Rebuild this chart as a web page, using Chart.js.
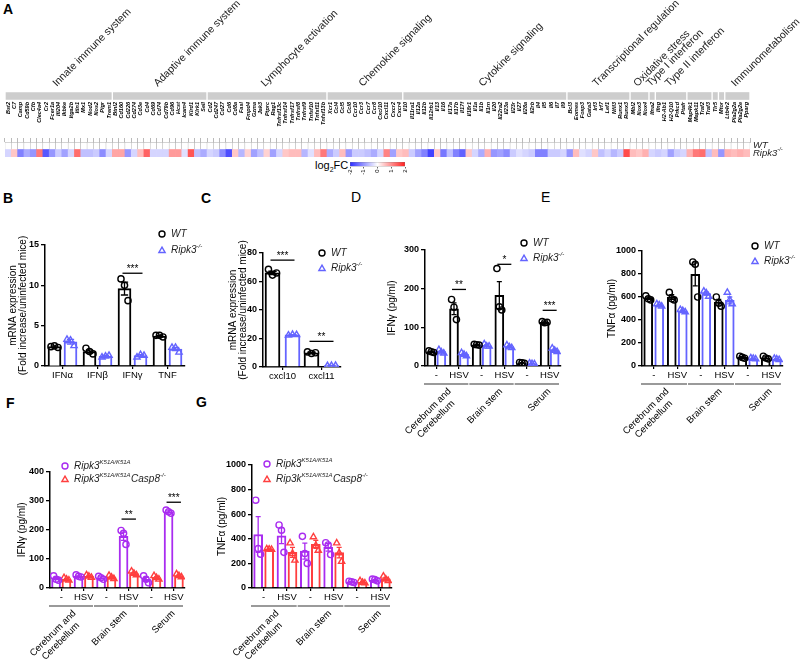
<!DOCTYPE html>
<html>
<head>
<meta charset="utf-8">
<script src="https://cdn.jsdelivr.net/npm/chart.js"></script>
<style>
  body { margin: 0; background: #fff; }
  #wrap { position: relative; width: 800px; height: 664px; overflow: hidden; font-family: 'Liberation Sans', Arial, sans-serif; color: #000; }
  .tag { position: absolute; font-size: 14px; font-weight: bold; line-height: 14px; }
  .tag.thin { font-weight: normal; }
</style>
</head>
<body>
<div id="wrap">
  <div class="tag" style="left:3px;top:2px">A</div>
  <div class="tag" style="left:3px;top:191px">B</div>
  <div class="tag" style="left:201px;top:191px">C</div>
  <div class="tag thin" style="left:351px;top:190px">D</div>
  <div class="tag thin" style="left:541px;top:190px">E</div>
  <div class="tag" style="left:6px;top:396px">F</div>
  <div class="tag" style="left:196px;top:395px">G</div>
  <div style="position:absolute;left:315px;top:159px;font-size:11px;line-height:12px">log<sub style="font-size:7px">2</sub>FC</div>
</div>
<script>
// ---------- panel A data ----------
const geneGroups = ['Innate immune system', 'Adaptive immune system', 'Lymphocyte activation',
  'Chemokine signaling', 'Cytokine signaling', 'Transcriptional regulation', 'Oxidative stress',
  'Type I interferon', 'Type II interferon', '', '', '', 'Immunometabolism'];
const geneGroupSizes = [17, 15, 19, 12, 26, 10, 3, 1, 5, 4, 1, 1, 4];
const genes = [
  'Bst2', 'C7', 'Camp', 'Cd59b', 'Cfb', 'Clec4a4', 'Cr2', 'Fcer1a', 'Ifi204', 'Ikbke', 'Itga2b', 'Itln1', 'Mx1', 'Nod2', 'Nos2', 'Pigr', 'Trem1',
  'Btnl2', 'Cd160', 'Cd226', 'Cd274', 'Cd3e', 'Cd4', 'Cd69', 'Cd74', 'Cd79b', 'Cd96', 'Hcst', 'Icam4', 'Klrd1', 'Klrk1', 'Sell',
  'Cd2', 'Cd247', 'Cd27', 'Cd6', 'Cd8a', 'Fasl', 'Fmpd4', 'Gzma', 'Jak3', 'Ptprc', 'Rag1', 'Tnfrsf13c', 'Tnfrsf14', 'Tnfrsf17', 'Tnfrsf8', 'Tnfrsf9', 'Tnfsf10', 'Tnfsf11', 'Tnfsf13b',
  'Xcr1', 'Ccl4', 'Ccl5', 'Ccl8', 'Ccr10', 'Ccr3', 'Ccr7', 'Ccr8', 'Cxcl10', 'Cxcl11', 'Cxcr2', 'Cxcr4',
  'Il10', 'Il11ra1', 'Il12a', 'Il12b', 'Il12rb1', 'Il13', 'Il16', 'Il17a', 'Il17b', 'Il17f', 'Il18r1', 'Il1a', 'Il1b', 'Il1rn', 'Il20', 'Il22ra2', 'Il23a', 'Il23r', 'Il27', 'Il28a', 'Il2rb', 'Il4', 'Il5', 'Il6', 'Il7', 'Il9',
  'Bcl3', 'Eomes', 'Foxp3', 'Gata3', 'Irf3', 'Irf7', 'Lef1', 'Nfil3', 'Runx1', 'Runx3',
  'Mbl2', 'Nox3', 'Nox4',
  'Ifna2',
  'Ifng', 'H2-Ab1', 'H2-Q10', 'Prkcd', 'Ptafr',
  'Map4k1', 'Mapk11', 'Traf2', 'Traf3',
  'Tlr5',
  'Mtor',
  'Ltb4r2', 'Pla2g2a', 'Pla2g2e', 'Pparg'
];
const ripkFC = [
  -0.4, 0.5, -1.2, -0.8, -1.0, 1.2, -1.6, -1.0, -0.5, -0.9, -0.4, 1.3, -0.6, -0.6, -0.5, -1.1, -0.4,
  0.8, 0.8, -1.0, -0.4, 0.6, 1.4, -0.4, -0.4, -0.4, 0.9, 0.9, -0.3, 1.5, -0.6, -0.8,
  -0.4, -0.5, -1.1, -1.7, 0.5, -0.7, 0.4, -0.9, -0.6, 0.4, -0.9, -0.4, 0.5, 0.6, 0.6, -0.7, -0.3, 0.6, 1.2,
  -0.8, -0.5, 0.6, -1.0, -0.5, -0.5, -0.6, -0.8, -0.4, 1.1, -0.9, 0.5,
  0.6, -0.5, -0.9, -1.2, -1.8, 0.5, -1.3, -0.6, -1.2, -1.5, 0.5, -0.4, -0.8, 0.7, -1.0, -0.9, -1.1, -0.5, -0.3, -0.4, -0.5, -1.2, -1.2, -0.5, -0.5, -0.4,
  -1.0, 0.6, -0.3, -0.4, 0.5, -0.6, -0.4, -0.7, -0.5, 1.6,
  0.6, 0.5, 0.7,
  -0.4,
  -0.5, -0.4, -0.9, -0.5, -0.4,
  0.7, 1.2, 1.3, -0.6,
  0.6,
  -1.0,
  0.7, 0.6, 0.7, 0.6
];
const heatRowLabels = [[['Ripk3'], ['-/-', 1]], [['WT']]];
const fcTicks = [-2, -1, 0, 1, 2];

// ---------- panel B / C data ----------
const bCats = ['IFNα', 'IFNβ', 'IFNγ', 'TNF'];
const bYTicks = [0, 5, 10, 15];
const bWtMean = [2.4, 1.8, 9.6, 3.7];
const bWtSem = [0.1, 0.2, 0.8, 0.1];
const bWtPts = [[2.4, 2.5, 2.3], [2.2, 1.8, 1.5], [10.8, 10.0, 8.1], [3.8, 3.8, 3.6]];
const bKoMean = [3.0, 1.2, 1.3, 2.1];
const bKoSem = [0.3, 0.1, 0.1, 0.2];
const bKoPts = [[3.3, 3.2, 2.5], [1.1, 1.2, 1.3], [1.1, 1.4, 1.3], [2.3, 2.3, 1.7]];

const cCats = ['cxcl10', 'cxcl11'];
const cYTicks = [0, 20, 40, 60, 80];
const cWtMean = [66, 10];
const cWtSem = [1.2, 0.4];
const cWtPts = [[68.5, 64.5, 66], [10.6, 9.5, 10]];
const cKoMean = [22.5, 1.0];
const cKoSem = [0.2, 0.1];
const cKoPts = [[22.3, 22.8, 22.6], [0.9, 1.0, 1.1]];

// ---------- panels D-G data ----------
const hsvCats = ['-', 'HSV', '-', 'HSV', '-', 'HSV'];
const tissueGroups = [['Cerebrum and', 'Cerebellum'], ['Brain stem'], ['Serum']];

const dYTicks = [0, 100, 200, 300];
const dWtMean = [37, 148, 55, 183, 8, 113];
const dWtSem = [1.2, 15, 0.6, 35, 0.6, 1];
const dWtPts = [[39, 37, 35], [172, 152, 120], [56, 55, 54], [252, 153, 145], [9, 8, 7], [115, 112, 113]];
const dKoMean = [37, 30, 53, 50, 6, 41];
const dKoSem = [2.6, 2.3, 2, 2, 0.5, 2.6];
const dKoPts = [[42, 36, 33], [34, 30, 26], [57, 51, 51], [54, 49, 47], [7, 6, 5], [46, 40, 37]];

const eYTicks = [0, 200, 400, 600, 800, 1000];
const eWtMean = [590, 600, 797, 555, 76, 72];
const eWtSem = [10, 20, 100, 25, 5, 7];
const eWtPts = [[610, 585, 575], [640, 585, 575], [905, 885, 600], [600, 545, 520], [85, 75, 68], [85, 70, 62]];
const eKoMean = [530, 480, 630, 570, 65, 60];
const eKoSem = [6, 6, 14, 30, 3, 3];
const eKoPts = [[540, 530, 520], [490, 480, 470], [650, 635, 605], [640, 575, 540], [70, 65, 60], [65, 60, 55]];

const fYTicks = [0, 100, 200, 300, 400];
const fK51Mean = [33, 40, 35, 178, 30, 262];
const fK51Sem = [4, 2, 3, 14, 7, 3];
const fK51Pts = [[42, 30, 27], [45, 40, 38], [40, 35, 30], [198, 188, 150], [42, 30, 18], [268, 262, 257]];
const fCaspMean = [30, 40, 37, 50, 35, 42];
const fCaspSem = [2, 3, 3, 4, 3, 3];
const fCaspPts = [[35, 30, 27], [45, 40, 36], [43, 37, 32], [58, 50, 45], [42, 35, 30], [48, 42, 38]];

const gYTicks = [0, 200, 400, 600, 800, 1000];
const gK51Mean = [435, 425, 300, 330, 50, 65];
const gK51Sem = [145, 65, 65, 30, 3, 4];
const gK51Pts = [[714, 320, 275], [512, 470, 290], [420, 280, 200], [368, 350, 272], [55, 50, 45], [72, 68, 58]];
const gCaspMean = [315, 290, 355, 288, 48, 75];
const gCaspSem = [2, 40, 32, 43, 5, 11];
const gCaspPts = [[318, 315, 312], [365, 280, 225], [415, 345, 305], [365, 285, 215], [58, 45, 40], [95, 72, 58]];

const legWT = [['WT']];
const legKO = [['Ripk3'], ['-/-', 1]];
const legK51 = [['Ripk3'], ['K51A/K51A', 1]];
const legCaspF = [['Ripk3'], ['K51A/K51A', 1], ['Casp8'], ['-/-', 1]];
const legCaspG = [['Rip3k'], ['K51A/K51A', 1], ['Casp8'], ['-/-', 1]];

// ---------- shared helpers ----------
const FONT = "'Liberation Sans', Arial, sans-serif";
Chart.defaults.font.family = FONT;
Chart.defaults.color = '#000';
const BLACK = '#000000', BLUE = '#6464ff', PURPLE = '#a92cf0', RED = '#ff3f3f';

function addCanvas(box) {
  const c = document.createElement('canvas');
  c.width = box.width; c.height = box.height;
  c.style.cssText = `position:absolute;left:${box.left}px;top:${box.top}px;width:${box.width}px;height:${box.height}px`;
  document.getElementById('wrap').appendChild(c);
  return c;
}

function fcColor(v) {
  const t = Math.max(-1, Math.min(1, v / 2));
  const end = t < 0 ? [45, 45, 255] : [255, 30, 30];
  const a = Math.abs(t);
  const c = end.map(e => Math.round(255 + (e - 255) * a));
  return `rgb(${c[0]},${c[1]},${c[2]})`;
}

function drawSegs(ctx, segs, x, y, size, color) {
  ctx.save();
  ctx.fillStyle = color; ctx.textBaseline = 'middle'; ctx.textAlign = 'left';
  segs.forEach(([t, sup]) => {
    const fs = sup ? size * 0.6 : size;
    ctx.font = `italic ${fs}px ${FONT}`;
    ctx.fillText(t, x, sup ? y - size * 0.38 : y);
    x += ctx.measureText(t).width + (sup ? 0.5 : 0);
  });
  ctx.restore();
}

function drawMarker(ctx, shape, x, y, r, color) {
  ctx.save();
  ctx.strokeStyle = color; ctx.lineWidth = 1.4;
  ctx.beginPath();
  if (shape === 'triangle') {
    const R = r * 1.2;
    for (let k = 0; k < 3; k++) {
      const a = -Math.PI / 2 + k * 2 * Math.PI / 3;
      const px = x + R * Math.cos(a), py = y + R * Math.sin(a) + R * 0.2;
      k ? ctx.lineTo(px, py) : ctx.moveTo(px, py);
    }
    ctx.closePath();
  } else {
    ctx.arc(x, y, r, 0, Math.PI * 2);
  }
  ctx.stroke();
  ctx.restore();
}

// error bars drawn right after each bar dataset, below the dots
const errorBars = {
  id: 'errorBars',
  afterDatasetDraw(chart, args) {
    const ds = chart.data.datasets[args.index];
    if (!ds.errors) return;
    const ctx = chart.ctx, ys = chart.scales.y;
    ctx.save();
    ctx.strokeStyle = ds.borderColor; ctx.lineWidth = 1.3;
    args.meta.data.forEach((bar, i) => {
      const m = ds.data[i].y, e = ds.errors[i];
      const top = ys.getPixelForValue(m + e), bot = ys.getPixelForValue(m - e);
      const cap = bar.width * 0.28;
      ctx.beginPath();
      ctx.moveTo(bar.x, bot); ctx.lineTo(bar.x, top);
      ctx.moveTo(bar.x - cap, top); ctx.lineTo(bar.x + cap, top);
      ctx.moveTo(bar.x - cap, bot); ctx.lineTo(bar.x + cap, bot);
      ctx.stroke();
    });
    ctx.restore();
  }
};

const sigMarks = {
  id: 'sig',
  afterDatasetsDraw(chart, args, o) {
    if (!o || !o.items) return;
    const ctx = chart.ctx, xs = chart.scales.x, ys = chart.scales.y;
    ctx.save();
    ctx.strokeStyle = '#000'; ctx.lineWidth = 1.3; ctx.fillStyle = '#000';
    ctx.font = `10px ${FONT}`; ctx.textAlign = 'center'; ctx.textBaseline = 'bottom';
    o.items.forEach(it => {
      const xa = xs.getPixelForValue(it.i - o.off) - 2, xb = xs.getPixelForValue(it.i + o.off) + 2;
      const y = ys.getPixelForValue(it.y);
      ctx.beginPath(); ctx.moveTo(xa, y); ctx.lineTo(xb, y); ctx.stroke();
      ctx.fillText(it.t, (xa + xb) / 2, y + 1);
    });
    ctx.restore();
  }
};

const keyBox = {
  id: 'keys',
  afterDraw(chart, args, o) {
    if (!o || o.x === undefined) return;
    const ctx = chart.ctx;
    chart.data.datasets.filter(d => d.legendSegs).forEach((d, k) => {
      const y = o.y + k * o.dy;
      drawMarker(ctx, d.pointStyle, o.x, y, 3, d.pointBorderColor);
      drawSegs(ctx, d.legendSegs, o.x + 9, y, 10, '#222');
    });
  }
};

const tissueAxis = {
  id: 'groups',
  afterDraw(chart, args, o) {
    if (!o || !o.names) return;
    const ctx = chart.ctx, xs = chart.scales.x, base = chart.chartArea.bottom;
    ctx.save();
    o.names.forEach((lines, k) => {
      const from = k * 2, to = k * 2 + 1;
      const x0 = xs.getPixelForValue(from - 0.5) - 1, x1 = xs.getPixelForValue(to + 0.5) - 2;
      ctx.strokeStyle = '#9a9a9a'; ctx.lineWidth = 2;
      ctx.beginPath(); ctx.moveTo(x0, base + o.lineDy); ctx.lineTo(x1, base + o.lineDy); ctx.stroke();
      const gx = xs.getPixelForValue((from + to) / 2) + o.dx[k];
      ctx.save();
      ctx.translate(gx, base + o.textDy);
      ctx.rotate(-Math.PI / 4);
      ctx.font = `9.5px ${FONT}`; ctx.fillStyle = '#000';
      ctx.textBaseline = 'middle'; ctx.textAlign = 'center';
      const w0 = ctx.measureText(lines[0]).width;
      lines.forEach((t, j) => ctx.fillText(t, -w0 / 2, j * 11));
      ctx.restore();
    });
    ctx.restore();
  }
};

function barPanel(box, area, p) {
  const cv = addCanvas(box);
  const n = p.cats.length;
  const unit = (area.right - area.left) / n;
  const off = p.pairPx / unit;
  const jit = p.barW * 0.27 / unit;
  const datasets = [];
  p.series.forEach((s, k) => {
    const dx = k === 0 ? -off : off;
    datasets.push({
      type: 'bar', order: 2, grouped: false, barThickness: p.barW,
      data: s.means.map((m, i) => ({ x: i + dx, y: m })), errors: s.sems,
      backgroundColor: '#ffffff', borderColor: s.color, borderWidth: 2
    });
    datasets.push({
      type: 'scatter', order: 0, legendSegs: s.legend,
      data: s.pts.flatMap((arr, i) => arr.map((v, j) => ({ x: i + dx + (j - (arr.length - 1) / 2) * jit, y: v }))),
      pointStyle: s.shape, pointRadius: s.shape === 'triangle' ? 3.6 : 3.1,
      pointBorderWidth: 1.4, pointBorderColor: s.color, pointBackgroundColor: 'rgba(255,255,255,0)'
    });
  });
  const titleSize = 10, titleLH = 1.05;
  new Chart(cv, {
    type: 'bar',
    data: { datasets },
    options: {
      responsive: false, animation: false, events: [],
      layout: { padding: { left: 0, top: area.top - box.top, right: box.left + box.width - area.right, bottom: box.top + box.height - area.bottom - 16 } },
      plugins: {
        legend: { display: false }, tooltip: { enabled: false },
        sig: { items: p.sig || [], off },
        keys: { x: p.key[0] - box.left, y: p.key[1] - box.top, dy: p.key[2] },
        groups: p.groups ? { names: p.groups, lineDy: 18, textDy: 24, dx: [2, 8, 11] } : {}
      },
      scales: {
        x: {
          type: 'linear', min: -0.5, max: n - 0.5, offset: false,
          afterBuildTicks: s => { s.ticks = p.cats.map((c, i) => ({ value: i })); },
          afterFit: s => { s.height = 16; },
          ticks: { autoSkip: false, maxRotation: 0, minRotation: 0, padding: 1, font: { size: 9.5 }, color: '#000', callback: (v, i) => p.cats[i] },
          grid: { drawOnChartArea: false, drawTicks: true, tickLength: 3, offset: false, color: '#000', lineWidth: 1.2 },
          border: { color: '#000', width: 1.5 }
        },
        y: {
          min: p.yTicks[0], max: p.yTicks[p.yTicks.length - 1],
          afterBuildTicks: s => { s.ticks = p.yTicks.map(v => ({ value: v })); },
          afterFit: s => { s.width = area.left - box.left; },
          ticks: { font: { size: 9, weight: 'bold' }, color: '#000', padding: 2, callback: v => String(v) },
          grid: { drawOnChartArea: false, tickLength: 4, color: '#000', lineWidth: 1.3 },
          border: { color: '#000', width: 1.5 },
          title: {
            display: true, text: p.yTitle, color: '#000',
            font: { size: titleSize, lineHeight: titleLH },
            padding: { top: p.titleX - box.left - titleSize * titleLH / 2, bottom: 0 }
          }
        }
      }
    },
    plugins: [errorBars, sigMarks, keyBox, tissueAxis]
  });
}

// ---------- panel A: category bars + gene names ----------
const nG = genes.length;
const groupStarts = geneGroupSizes.map((s, k) => geneGroupSizes.slice(0, k).reduce((a, b) => a + b, 0));

const catLabels = {
  id: 'catLabels',
  afterDraw(chart) {
    const ctx = chart.ctx, xs = chart.scales.x;
    ctx.save();
    ctx.font = `10.5px ${FONT}`; ctx.fillStyle = '#222'; ctx.textAlign = 'left'; ctx.textBaseline = 'alphabetic';
    geneGroups.forEach((name, k) => {
      if (!name) return;
      const gx = xs.getPixelForValue(groupStarts[k] + (geneGroupSizes[k] - 1) / 2);
      ctx.save(); ctx.translate(gx - 2, 87); ctx.rotate(-Math.PI / 4); ctx.fillText(name, 0, 0); ctx.restore();
    });
    ctx.restore();
  }
};

new Chart(addCanvas({ left: 0, top: 0, width: 800, height: 140 }), {
  type: 'bar',
  data: {
    labels: ['grp'],
    datasets: [{
      data: geneGroupSizes.map((s, k) => ({ x: [groupStarts[k] - 0.5 + 0.16, groupStarts[k] + s - 0.5 - 0.16], y: 'grp' })),
      backgroundColor: '#cdcdcd', barThickness: 7, grouped: false
    }]
  },
  options: {
    indexAxis: 'y', responsive: false, animation: false, events: [],
    layout: { padding: { left: 5, right: 50, top: 92, bottom: 0 } },
    plugins: { legend: { display: false }, tooltip: { enabled: false } },
    scales: {
      x: {
        type: 'linear', min: -0.5, max: nG - 0.5,
        afterBuildTicks: s => { s.ticks = genes.map((g, i) => ({ value: i })); },
        afterFit: s => { s.height = 40; },
        ticks: { autoSkip: false, minRotation: 90, maxRotation: 90, padding: 2, color: '#000',
          font: { size: 5.5, style: 'italic', weight: 'bold' }, callback: (v, i) => genes[i] },
        grid: { display: false, drawTicks: false }, border: { display: false }
      },
      y: { display: false }
    }
  },
  plugins: [catLabels]
});

// ---------- panel A: heatmap ----------
const rowLabels = {
  id: 'rowLabels',
  afterDraw(chart) {
    const ys = chart.scales.y, x = chart.chartArea.right + 3;
    heatRowLabels.forEach((segs, k) => drawSegs(chart.ctx, segs, x, ys.getPixelForValue(k + 0.5), 9.5, '#222'));
  }
};

new Chart(addCanvas({ left: 0, top: 134, width: 800, height: 26 }), {
  type: 'bar',
  data: {
    labels: genes,
    datasets: [
      { data: genes.map(() => [0, 1]), backgroundColor: ripkFC.map(fcColor), borderWidth: 0,
        grouped: false, barPercentage: 1, categoryPercentage: 1 },
      { data: genes.map(() => [1, 2]), backgroundColor: '#ffffff', borderColor: '#a8a8a8',
        borderWidth: { left: 0.5, right: 0.5, top: 0.8, bottom: 0 }, borderSkipped: false,
        grouped: false, barPercentage: 1, categoryPercentage: 1 }
    ]
  },
  options: {
    responsive: false, animation: false, events: [],
    layout: { padding: { left: 5, right: 50, top: 4, bottom: 3 } },
    plugins: { legend: { display: false }, tooltip: { enabled: false } },
    scales: {
      x: { type: 'category', position: 'top', offset: true,
        ticks: { display: false },
        afterFit: s => { s.height = 4; },
        grid: { drawOnChartArea: false, tickLength: 4, offset: true, color: '#a8a8a8', lineWidth: 0.8 },
        border: { color: '#a8a8a8', width: 0.8 } },
      y: { type: 'linear', min: 0, max: 2, display: false }
    }
  },
  plugins: [rowLabels]
});

// ---------- panel A: colour key ----------
new Chart(addCanvas({ left: 340, top: 156, width: 80, height: 26 }), {
  type: 'bar',
  data: {
    labels: ['fc'],
    datasets: [{
      data: [[fcTicks[0], fcTicks[fcTicks.length - 1]]],
      backgroundColor: ctx => {
        const ca = ctx.chart.chartArea;
        if (!ca) return '#ffffff';
        const g = ctx.chart.ctx.createLinearGradient(ca.left, 0, ca.right, 0);
        g.addColorStop(0, fcColor(fcTicks[0]));
        g.addColorStop(0.5, fcColor(0));
        g.addColorStop(1, fcColor(fcTicks[fcTicks.length - 1]));
        return g;
      },
      borderColor: '#777', borderWidth: 0.6, borderSkipped: false, barPercentage: 1, categoryPercentage: 1
    }]
  },
  options: {
    indexAxis: 'y', responsive: false, animation: false, events: [],
    layout: { padding: { left: 10, right: 15, top: 6, bottom: 3.5 } },
    plugins: { legend: { display: false }, tooltip: { enabled: false } },
    scales: {
      x: { type: 'linear', min: fcTicks[0], max: fcTicks[fcTicks.length - 1],
        afterBuildTicks: s => { s.ticks = fcTicks.map(v => ({ value: v })); },
        afterFit: s => { s.height = 12; },
        ticks: { autoSkip: false, minRotation: 90, maxRotation: 90, padding: 1, font: { size: 6 }, color: '#000', callback: v => String(v) },
        grid: { drawOnChartArea: false, tickLength: 2, color: '#000', lineWidth: 0.6 },
        border: { display: false } },
      y: { display: false }
    }
  }
});

// ---------- panels B-G ----------
barPanel({ left: 0, top: 220, width: 212, height: 164 }, { left: 45, top: 245, right: 185, bottom: 366 }, {
  cats: bCats, yTicks: bYTicks, yTitle: ['mRNA expression', '(Fold increase/uninfected mice)'], titleX: 13,
  barW: 13, pairPx: 8, key: [162, 234, 16],
  sig: [{ i: 2, y: 11.5, t: '***' }],
  series: [
    { means: bWtMean, sems: bWtSem, pts: bWtPts, color: BLACK, shape: 'circle', legend: legWT },
    { means: bKoMean, sems: bKoSem, pts: bKoPts, color: BLUE, shape: 'triangle', legend: legKO }
  ]
});

barPanel({ left: 212, top: 228, width: 162, height: 157 }, { left: 263, top: 253, right: 341, bottom: 367 }, {
  cats: cCats, yTicks: cYTicks, yTitle: ['mRNA expression', '(Fold increase/uninfected mice)'], titleX: 233,
  barW: 15, pairPx: 10, key: [322, 253, 15],
  sig: [{ i: 0, y: 75, t: '***' }, { i: 1, y: 18, t: '**' }],
  series: [
    { means: cWtMean, sems: cWtSem, pts: cWtPts, color: BLACK, shape: 'circle', legend: legWT },
    { means: cKoMean, sems: cKoSem, pts: cKoPts, color: BLUE, shape: 'triangle', legend: legKO }
  ]
});

barPanel({ left: 372, top: 222, width: 200, height: 228 }, { left: 425, top: 250, right: 561, bottom: 366 }, {
  cats: hsvCats, groups: tissueGroups, yTicks: dYTicks, yTitle: 'IFNγ (pg/ml)', titleX: 392,
  barW: 9, pairPx: 5, key: [524, 243, 15],
  sig: [{ i: 1, y: 198, t: '**' }, { i: 3, y: 263, t: '*' }, { i: 5, y: 144, t: '***' }],
  series: [
    { means: dWtMean, sems: dWtSem, pts: dWtPts, color: BLACK, shape: 'circle', legend: legWT },
    { means: dKoMean, sems: dKoSem, pts: dKoPts, color: BLUE, shape: 'triangle', legend: legKO }
  ]
});

barPanel({ left: 592, top: 222, width: 208, height: 228 }, { left: 642, top: 251, right: 783, bottom: 366 }, {
  cats: hsvCats, groups: tissueGroups, yTicks: eYTicks, yTitle: 'TNFα (pg/ml)', titleX: 612.5,
  barW: 9, pairPx: 5.5, key: [755, 246, 15],
  series: [
    { means: eWtMean, sems: eWtSem, pts: eWtPts, color: BLACK, shape: 'circle', legend: legWT },
    { means: eKoMean, sems: eKoSem, pts: eKoPts, color: BLUE, shape: 'triangle', legend: legKO }
  ]
});

barPanel({ left: 0, top: 440, width: 200, height: 224 }, { left: 50, top: 471.7, right: 185, bottom: 588 }, {
  cats: hsvCats, groups: tissueGroups, yTicks: fYTicks, yTitle: 'IFNγ (pg/ml)', titleX: 22,
  barW: 9, pairPx: 5.2, key: [65, 466, 13],
  sig: [{ i: 3, y: 237, t: '**' }, { i: 5, y: 295, t: '***' }],
  series: [
    { means: fK51Mean, sems: fK51Sem, pts: fK51Pts, color: PURPLE, shape: 'circle', legend: legK51 },
    { means: fCaspMean, sems: fCaspSem, pts: fCaspPts, color: RED, shape: 'triangle', legend: legCaspF }
  ]
});

barPanel({ left: 200, top: 440, width: 200, height: 224 }, { left: 252, top: 465, right: 392, bottom: 588 }, {
  cats: hsvCats, groups: tissueGroups, yTicks: gYTicks, yTitle: 'TNFα (pg/ml)', titleX: 222.5,
  barW: 9, pairPx: 5.5, key: [267, 464, 15],
  series: [
    { means: gK51Mean, sems: gK51Sem, pts: gK51Pts, color: PURPLE, shape: 'circle', legend: legK51 },
    { means: gCaspMean, sems: gCaspSem, pts: gCaspPts, color: RED, shape: 'triangle', legend: legCaspG }
  ]
});
</script>
</body>
</html>
